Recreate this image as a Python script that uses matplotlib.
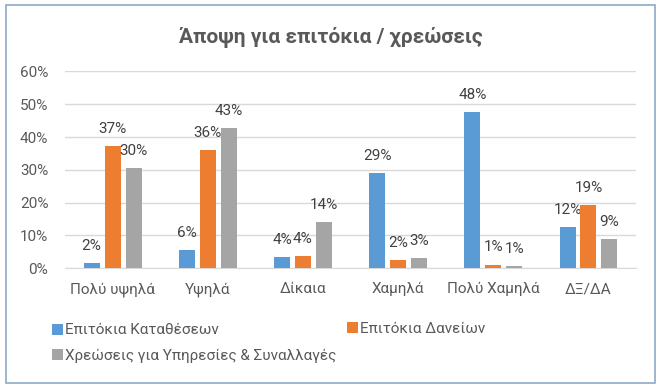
import numpy as np
import matplotlib.pyplot as plt
from matplotlib.patches import Rectangle

plt.rcParams['font.family'] = ['Roboto', 'DejaVu Sans']

categories = ['Πολύ υψηλά', 'Υψηλά', 'Δίκαια', 'Χαμηλά', 'Πολύ Χαμηλά', 'ΔΞ/ΔΑ']
series_names = ['Επιτόκια Καταθέσεων', 'Επιτόκια Δανείων',
                'Χρεώσεις για Υπηρεσίες & Συναλλαγές']
deposits = [0.016, 0.056, 0.035, 0.289, 0.477, 0.125]
loans = [0.372, 0.361, 0.038, 0.024, 0.011, 0.192]
fees = [0.305, 0.428, 0.141, 0.031, 0.006, 0.089]
yticks = [0, 0.1, 0.2, 0.3, 0.4, 0.5, 0.6]

colors = ['#5B9BD5', '#ED7D31', '#A5A5A5']
text_col = '#595959'

fig = plt.figure(figsize=(6.61, 3.89), dpi=100)
ax = fig.add_axes([0.0983, 0.3103, 0.864, 0.506])

x = np.arange(len(categories))
width = 0.168
step = 0.22
handles = []
for i, (vals, name, c) in enumerate(zip([deposits, loans, fees], series_names, colors)):
    bars = ax.bar(x + (i - 1) * step, vals, width, color=c, label=name, zorder=3)
    handles.append(bars)
    for b, v in zip(bars, vals):
        ax.annotate('{:.0f}%'.format(v * 100),
                    (b.get_x() + b.get_width() / 2, v),
                    xytext=(0, 9.5), textcoords='offset points',
                    ha='center', va='baseline', fontsize=11, color='#404040')

ax.set_xlim(-0.5, len(categories) - 0.5)
ax.set_ylim(0, 0.6)
ax.set_yticks(yticks)
ax.set_yticklabels(['{:.0f}%'.format(t * 100) for t in yticks])
ax.set_xticks(x)
ax.set_xticklabels(categories)
ax.grid(axis='y', color='#D9D9D9', linewidth=1, zorder=0)
for s in ['top', 'right', 'left']:
    ax.spines[s].set_visible(False)
ax.spines['bottom'].set_color('#D9D9D9')
ax.tick_params(axis='both', length=0, labelsize=11, colors=text_col)
ax.tick_params(axis='x', pad=10)
ax.tick_params(axis='y', pad=12)

fig.text(0.5, 0.889, 'Άποψη για επιτόκια / χρεώσεις', ha='center', va='baseline',
         fontsize=15, fontweight='bold', color=text_col)

# legend: row 1 -> deposits, loans; row 2 -> fees
leg_opts = dict(frameon=False, fontsize=11, labelcolor=text_col,
                handlelength=0.72, handleheight=0.72, handletextpad=0.15,
                borderpad=0, borderaxespad=0, loc='center left')
leg1 = fig.legend([handles[0], handles[2]], [series_names[0], series_names[2]],
                  bbox_to_anchor=(0.0787, 0.1176), labelspacing=0.75, **leg_opts)
fig.legend([handles[1]], [series_names[1]],
           bbox_to_anchor=(0.525, 0.1555), **leg_opts)

fig.patches.append(Rectangle((0.009, 0.015), 0.982, 0.972, transform=fig.transFigure,
                             fill=False, edgecolor='#8EA9C8', linewidth=1.2))

fig.savefig('out.png', dpi=100)
